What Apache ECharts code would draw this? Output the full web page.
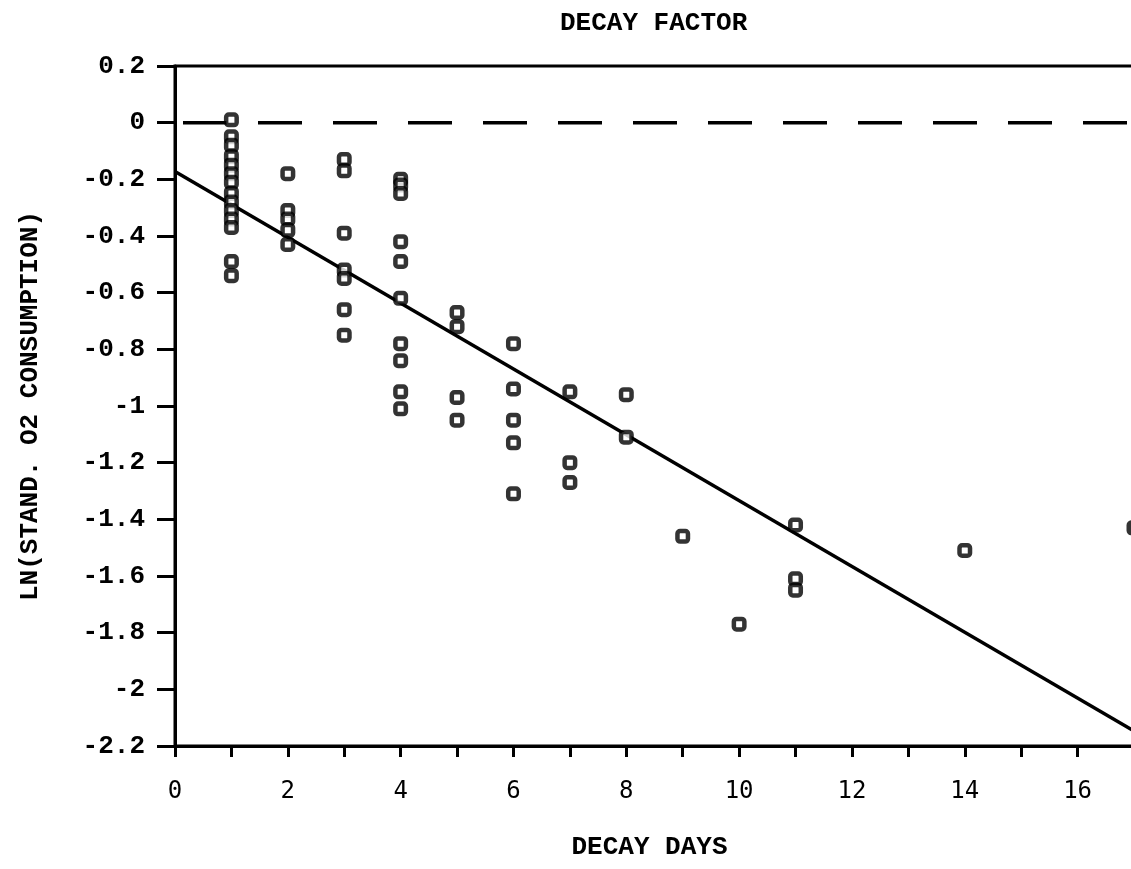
<!DOCTYPE html>
<html>
<head>
<meta charset="utf-8">
<title>DECAY FACTOR</title>
<script src="https://cdn.jsdelivr.net/npm/echarts@6/dist/echarts.min.js"></script>
<style>
  html, body { margin: 0; padding: 0; background: #fff; }
  #chart { width: 1131px; height: 869px; }
</style>
</head>
<body>
<div id="chart"></div>
<script>
// Observed decay days and the ln of standardized O2 consumption measured on each day
const decayDays = [1, 2, 3, 4, 5, 6, 7, 8, 9, 10, 11, 14, 17];
const lnByDay = [
  [0.01, -0.05, -0.08, -0.12, -0.15, -0.18, -0.21, -0.25, -0.28, -0.31, -0.34, -0.37, -0.49, -0.54],
  [-0.18, -0.31, -0.34, -0.38, -0.43],
  [-0.13, -0.17, -0.39, -0.52, -0.55, -0.66, -0.75],
  [-0.20, -0.22, -0.25, -0.42, -0.49, -0.62, -0.78, -0.84, -0.95, -1.01],
  [-0.67, -0.72, -0.97, -1.05],
  [-0.78, -0.94, -1.05, -1.13, -1.31],
  [-0.95, -1.20, -1.27],
  [-0.96, -1.11],
  [-1.46],
  [-1.77],
  [-1.42, -1.61, -1.65],
  [-1.51],
  [-1.43]
];

// Fitted decay line and the zero reference line
const fitDays = [0, 17];
const fitLn = [-0.172, -2.147];
const zeroDays = [0, 17];
const zeroLn = [0, 0];

const points = [];
decayDays.forEach((d, i) => lnByDay[i].forEach(v => points.push([d, v])));

const mono = '"Liberation Mono", "DejaVu Sans Mono", monospace';
const ink = '#000';

const chart = echarts.init(document.getElementById('chart'), null, { renderer: 'canvas' });
chart.setOption({
  backgroundColor: '#fff',
  animation: false,
  title: {
    text: 'DECAY FACTOR',
    left: 555,
    top: 5,
    textStyle: { fontFamily: mono, fontSize: 26, fontWeight: 'bold', color: ink }
  },
  grid: {
    left: 175, top: 66, width: 959, height: 680,
    outerBoundsMode: 'none',
    containLabel: false,
    show: true, borderColor: ink, borderWidth: 3, backgroundColor: 'transparent'
  },
  xAxis: {
    type: 'value',
    min: 0, max: 17, interval: 1,
    name: 'DECAY DAYS',
    nameLocation: 'middle',
    nameGap: 88,
    nameTextStyle: { fontFamily: mono, fontSize: 26, fontWeight: 'bold', color: ink, padding: [0, 0, 0, -10] },
    axisLine: { show: true, onZero: false, lineStyle: { color: ink, width: 3 } },
    axisTick: { show: true, length: 11, lineStyle: { color: ink, width: 3 } },
    splitLine: { show: false },
    axisLabel: {
      margin: 34,
      fontFamily: '"DejaVu Sans Mono", monospace',
      fontSize: 24,
      color: ink,
      formatter: v => (v % 2 === 0 ? String(v) : '')
    }
  },
  yAxis: {
    type: 'value',
    min: -2.2, max: 0.2, interval: 0.2,
    name: 'LN(STAND. O2 CONSUMPTION)',
    nameLocation: 'middle',
    nameRotate: 90,
    nameGap: 132,
    nameTextStyle: { fontFamily: mono, fontSize: 26, fontWeight: 'bold', color: ink },
    axisLine: { show: true, onZero: false, lineStyle: { color: ink, width: 3 } },
    axisTick: { show: true, length: 18, lineStyle: { color: ink, width: 3 } },
    splitLine: { show: false },
    axisLabel: {
      margin: 30,
      fontFamily: mono,
      fontSize: 26,
      fontWeight: 'bold',
      color: ink,
      formatter: v => (Math.abs(v) < 1e-9 ? '0' : String(+v.toFixed(1)))
    }
  },
  series: [
    {
      type: 'line',
      data: zeroDays.map((d, i) => [d, zeroLn[i]]),
      symbol: 'none',
      lineStyle: { color: ink, width: 3.5, type: [44, 31], dashOffset: -8 },
      z: 2
    },
    {
      type: 'line',
      data: fitDays.map((d, i) => [d, fitLn[i]]),
      symbol: 'none',
      lineStyle: { color: ink, width: 3.5 },
      z: 2
    },
    {
      type: 'scatter',
      data: points,
      clip: false,
      symbol: 'roundRect',
      symbolSize: 10.5,
      itemStyle: { color: '#fff', borderColor: ink, borderWidth: 4.5 },
      z: 3
    }
  ]
});
</script>
</body>
</html>
